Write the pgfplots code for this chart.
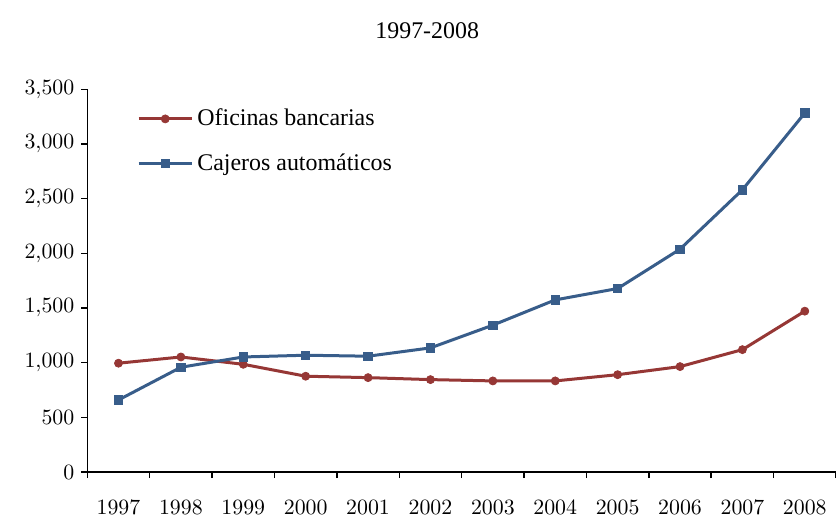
\documentclass[border=0pt]{standalone}
\usepackage[no-math]{fontspec}
\setmainfont{Liberation Serif}
\usepackage{pgfplots}
\pgfplotsset{compat=1.18}
\definecolor{oficinas}{RGB}{150,55,53}
\definecolor{cajeros}{RGB}{56,93,138}

\begin{document}
\begin{tikzpicture}
\begin{axis}[
    at={(0,0)}, anchor=south west,
    scale only axis,
    width=374.35bp, height=191.35bp,
    xmin=-0.5, xmax=11.5,
    ymin=0, ymax=3500,
    axis x line*=bottom, axis y line*=left,
    axis line style={-, line width=0.75bp},
    xtick={0,...,11},
    xticklabels={$1997$,$1998$,$1999$,$2000$,$2001$,$2002$,$2003$,$2004$,$2005$,$2006$,$2007$,$2008$},
    x tick label style={yshift=-7.5bp},
    major x tick style={draw=none},
    minor xtick={-0.5,0.5,...,11.5},
    tick align=outside,
    major tick length=3bp, minor tick length=3bp,
    tick style={line width=0.75bp, black},
    ytick={0,500,...,3500},
    scaled y ticks=false,
    y tick label style={/pgf/number format/.cd, 1000 sep={\mathord{,}}},
    tick label style={font=\fontsize{11.2}{13}\selectfont},
    every axis title shift=0pt,
    title={1997-2008},
    title style={at={(axis description cs:0.454,1.1335)}, anchor=base,
        font=\fontsize{12}{14}\selectfont},
    legend style={draw=none, fill=none, at={(axis description cs:0.066,0.96)},
        anchor=north west, font=\fontsize{12}{14}\selectfont,
        row sep=8.5bp, inner sep=0pt},
    legend cell align=left,
    legend image code/.code={
        \draw[mark repeat=2, mark phase=2] plot coordinates {(0cm,0cm) (0.47cm,0cm) (0.94cm,0cm)};
    },
]
\addplot[color=oficinas, line width=1.5bp, mark=*, mark size=2bp,
    mark options={solid, line width=0.4bp}] coordinates {
    (0,995) (1,1052) (2,985) (3,876) (4,863) (5,845)
    (6,833) (7,833) (8,890) (9,964) (10,1119) (11,1471)
};
\addlegendentry{Oficinas bancarias}
\addplot[color=cajeros, line width=1.5bp, mark=square*, mark size=2.1bp,
    mark options={solid, line width=0.4bp}] coordinates {
    (0,659) (1,958) (2,1052) (3,1068) (4,1059) (5,1135)
    (6,1343) (7,1574) (8,1678) (9,2038) (10,2581) (11,3283)
};
\addlegendentry{Cajeros automáticos}
\end{axis}
\pgfresetboundingbox
\path[use as bounding box] (-43.65bp,-22.5bp) rectangle (374.35bp,236bp);
\end{tikzpicture}
\end{document}
